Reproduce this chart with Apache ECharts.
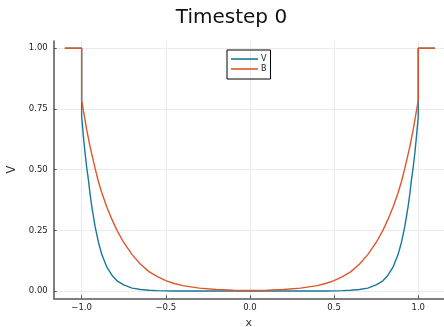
<!DOCTYPE html>
<html>
<head>
<meta charset="utf-8">
<script src="https://cdn.jsdelivr.net/npm/echarts@6/dist/echarts.min.js"></script>
<style>
  html, body { margin: 0; padding: 0; background: #fff; }
  #chart { width: 444px; height: 327px; }
</style>
</head>
<body>
<div id="chart"></div>
<script>
const xs = [
  -1.1, -1.0, -1.0, -0.99, -0.98, -0.97, -0.96, -0.95, -0.94, -0.92, -0.90, -0.88, -0.85,
  -0.82, -0.79, -0.75, -0.70, -0.65, -0.60, -0.55, -0.50, -0.45, -0.40, -0.30, -0.20, -0.10,
  0.0,
  0.10, 0.20, 0.30, 0.40, 0.45, 0.50, 0.55, 0.60, 0.65, 0.70, 0.75, 0.79, 0.82, 0.85,
  0.88, 0.90, 0.92, 0.94, 0.95, 0.96, 0.97, 0.98, 0.99, 1.0, 1.0, 1.1
]
const vValues = [
  1, 1, 0.72, 0.64, 0.57, 0.51, 0.46, 0.40, 0.35, 0.265, 0.20, 0.15, 0.098,
  0.065, 0.042, 0.025, 0.012, 0.006, 0.003, 0.0015, 0.0007, 0.0003, 0.0001, 0, 0, 0,
  0,
  0, 0, 0, 0.0001, 0.0003, 0.0007, 0.0015, 0.003, 0.006, 0.012, 0.025, 0.042, 0.065, 0.098,
  0.15, 0.20, 0.265, 0.35, 0.40, 0.46, 0.51, 0.57, 0.64, 0.72, 1, 1
]
const bValues = [
  1, 1, 0.785, 0.745, 0.705, 0.665, 0.63, 0.595, 0.565, 0.505, 0.45, 0.405, 0.345,
  0.295, 0.25, 0.20, 0.15, 0.11, 0.08, 0.059, 0.043, 0.031, 0.022, 0.012, 0.006, 0.003,
  0.002,
  0.003, 0.006, 0.012, 0.022, 0.031, 0.043, 0.059, 0.08, 0.11, 0.15, 0.20, 0.25, 0.295, 0.345,
  0.405, 0.45, 0.505, 0.565, 0.595, 0.63, 0.665, 0.705, 0.745, 0.785, 1, 1
]
const xTicks = [-1.0, -0.5, 0.0, 0.5, 1.0]
const yTicks = [0, 0.25, 0.5, 0.75, 1.0]
const seriesNames = ['V', 'B']

const axisColor = '#555'
const gridColor = '#ebebeb'
const tickFont = { fontFamily: 'DejaVu Sans', fontSize: 8.5, color: '#222' }

function minus(s) {
  return s.replace('-', '\u2212')
}

const chart = echarts.init(document.getElementById('chart'), null, { renderer: 'canvas' })
const option = {
  animation: false,
  color: ['#16799a', '#e0562a'],
  title: {
    text: 'Timestep 0',
    left: 226.5,
    top: 3,
    textAlign: 'center',
    textStyle: { fontFamily: 'DejaVu Sans', fontSize: 20, fontWeight: 'normal', color: '#111' },
  },
  legend: {
    data: seriesNames.map((n) => ({ name: n, icon: 'rect' })),
    orient: 'vertical',
    left: 227,
    top: 50,
    padding: [4, 4, 5, 4],
    itemWidth: 27,
    itemHeight: 1.6,
    itemGap: 0,
    borderColor: '#000',
    borderWidth: 1,
    borderRadius: 0,
    textStyle: { fontFamily: 'DejaVu Sans', fontSize: 8, color: '#222', lineHeight: 10, padding: [0, 0, 0, -2] },
  },
  grid: {
    left: 53.7,
    right: 0,
    top: 41,
    bottom: 28.7,
    containLabel: false,
    outerBoundsMode: 'none',
  },
  xAxis: {
    type: 'value',
    min: -1.166,
    max: 1.153,
    name: 'x',
    nameLocation: 'middle',
    nameGap: 17,
    nameTextStyle: { fontFamily: 'DejaVu Sans', fontSize: 11, color: '#333' },
    axisLine: { show: true, onZero: false, lineStyle: { color: axisColor, width: 1.5 } },
    axisTick: { show: true, inside: true, length: 3, customValues: xTicks, lineStyle: { color: axisColor } },
    axisLabel: {
      ...tickFont,
      customValues: xTicks,
      margin: 5,
      formatter: (v) => minus(v.toFixed(1)),
    },
    splitLine: { show: true, lineStyle: { color: gridColor, width: 1 } },
  },
  yAxis: {
    type: 'value',
    min: -0.03,
    max: 1.03,
    name: 'V',
    nameLocation: 'middle',
    nameGap: 32.5,
    nameRotate: 90,
    nameTextStyle: { fontFamily: 'DejaVu Sans', fontSize: 11.5, color: '#333' },
    axisLine: { show: true, onZero: false, lineStyle: { color: axisColor, width: 1.5 } },
    axisTick: { show: true, inside: true, length: 3, customValues: yTicks, lineStyle: { color: axisColor } },
    axisLabel: {
      ...tickFont,
      customValues: yTicks,
      margin: 6,
      formatter: (v) => v.toFixed(2),
    },
    splitLine: { show: true, lineStyle: { color: gridColor, width: 1 } },
  },
  series: [
    {
      name: 'V',
      type: 'line',
      showSymbol: false,
      lineStyle: { width: 1.4 },
      data: xs.map((x, i) => [x, vValues[i]]),
    },
    {
      name: 'B',
      type: 'line',
      showSymbol: false,
      lineStyle: { width: 1.4 },
      data: xs.map((x, i) => [x, bValues[i]]),
    },
  ],
}
chart.setOption(option)
window.addEventListener('resize', () => {
  chart.resize()
})
</script>
</body>
</html>
